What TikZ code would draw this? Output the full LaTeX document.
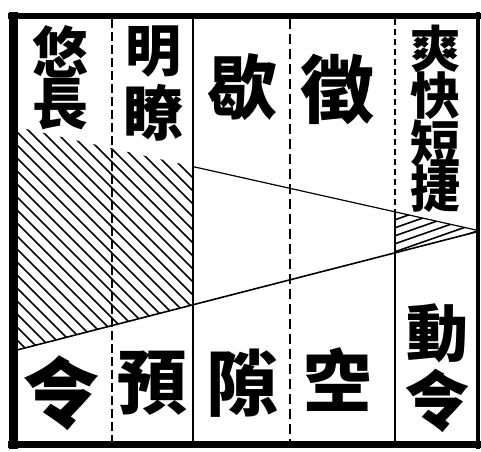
\documentclass[tikz,border=0pt]{standalone}
\usepackage{fontspec}
\newfontfamily\cjk{Noto Sans CJK TC}
\begin{document}
\begin{tikzpicture}[x=1pt,y=-1pt,
  frame/.style={line width=#1, line cap=butt},
  divider/.style={line width=1.8pt},
  dashdiv/.style={line width=1.8pt, dash pattern=on 9pt off 4pt},
  hatch/.style={line width=1.6pt},
  bound/.style={line width=1.6pt},
  ch/.style={inner sep=0pt, font=\cjk\bfseries\fontsize{#1}{#1}\selectfont}]
\useasboundingbox (0,0) rectangle (481,451);
% key points
\coordinate (UA) at (17,127);
\coordinate (UB) at (193,166.6);
\coordinate (UC) at (395,212);
\coordinate (UD) at (476,230);
\coordinate (LA) at (17,350);
\coordinate (LB) at (193,305);
\coordinate (LC) at (395,253);
\coordinate (LD) at (476,232);
% hatching left
\begin{scope}
  \clip (UA) -- (UB) -- (LB) -- (LA) -- cycle;
  \foreach \c in {-80,-67,...,340} \draw[hatch] (0,\c) -- (500,\c+500);
\end{scope}
% hatching right
\begin{scope}
  \clip (UC) -- (UD) -- (LD) -- (LC) -- cycle;
  \foreach \c in {350,358,...,426} \draw[hatch] (380,\c-133) -- (480,\c-168);
\end{scope}
% boundary lines
\draw[line width=1.2pt] (UB) -- (UD);
\draw[bound] (LA) -- (LD);
% dividers
\draw[dashdiv] (112,19) -- (112,441);
\draw[divider] (193,19) -- (193,441);
\draw[dashdiv, dash pattern=on 10pt off 5pt] (290,19) -- (290,441);
\draw[line width=1.4pt, dash pattern=on 6pt off 4pt] (395,19) -- (UC);
\draw[divider] (UC) -- (395,441);
% frame
\draw[frame=6pt] (8,16) -- (481,16);
\draw[frame=9pt] (13,12) -- (13,449);
\draw[frame=7pt] (8,444) -- (481,444);
\draw[frame=4pt] (478,12) -- (478,449);
% top texts
\node[ch=56] (t1a) at (60,52) {悠};
\node[ch=56] (t1b) at (60,104) {長};
\node[ch=56] (t2a) at (153,52) {明};
\node[ch=60] (t2b) at (153,113) {瞭};
\node[ch=70] (t3) at (242,87) {歇};
\node[ch=74] (t4) at (337,89) {徵};
\node[ch=50] (t5a) at (435,49) {爽};
\node[ch=50] (t5b) at (435,96) {快};
\node[ch=50] (t5c) at (435,143) {短};
\node[ch=50] (t5d) at (435,189) {捷};
% bottom texts
\node[ch=78] (b1) at (61,393) {令};
\node[ch=70] (b2) at (152,383) {預};
\node[ch=72] (b3) at (242,383) {隙};
\node[ch=68] (b4) at (337,380) {空};
\node[ch=62] (b5a) at (437,333) {動};
\node[ch=66] (b5b) at (437,401) {令};
\end{tikzpicture}
\end{document}
